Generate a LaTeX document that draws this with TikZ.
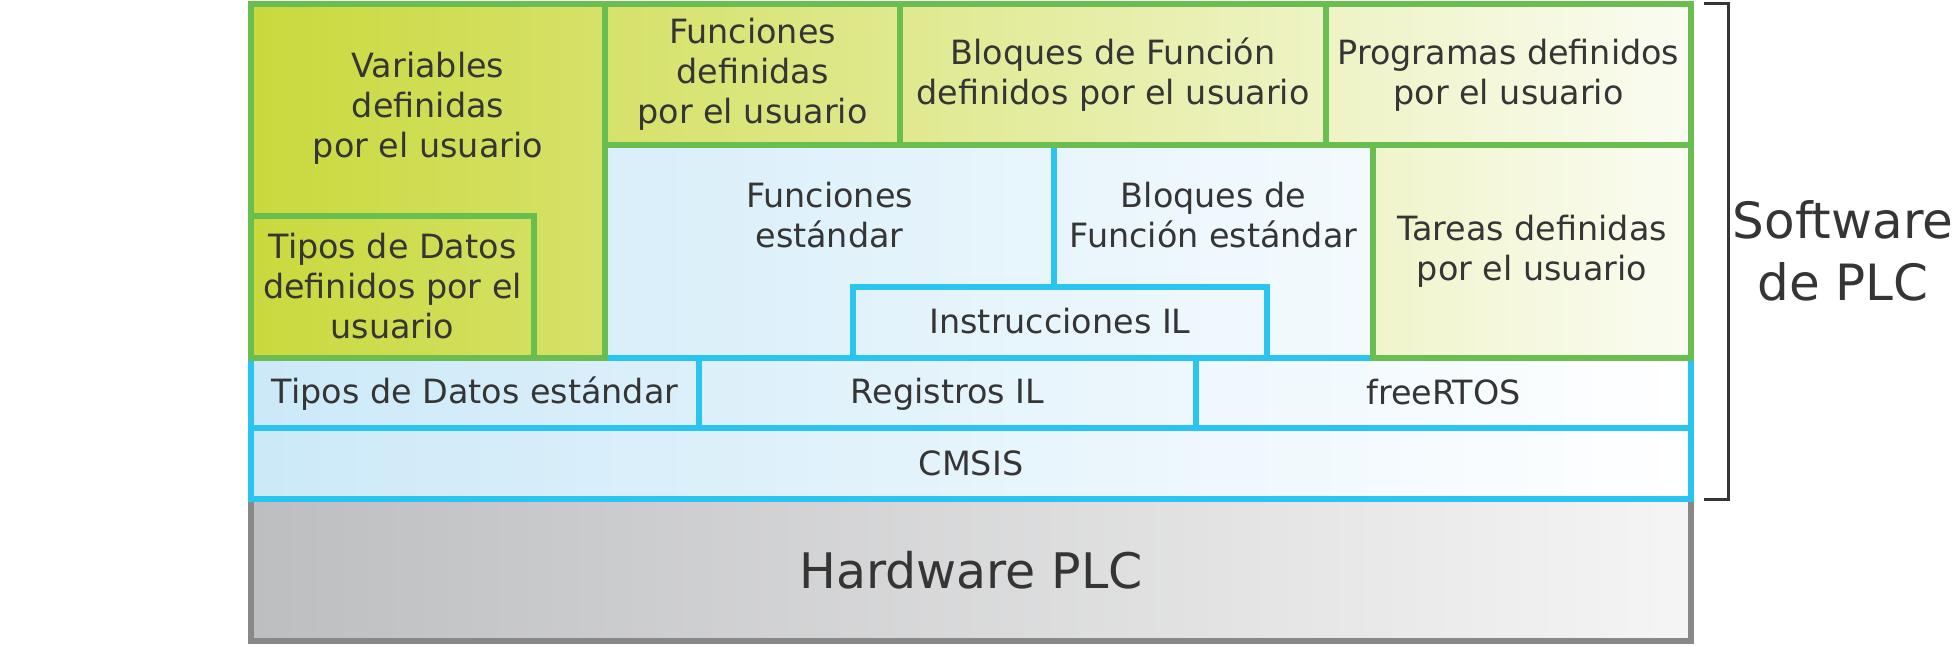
\documentclass[tikz,border=0pt]{standalone}
\usepackage{fontspec}
\setmainfont{DejaVu Sans}
\definecolor{grn}{HTML}{6ABD4F}
\definecolor{blu}{HTML}{29C5F0}
\definecolor{gry}{HTML}{888888}
\definecolor{txt}{HTML}{353535}
\definecolor{gL}{HTML}{C9D93C}
\definecolor{gR}{HTML}{FBFCF3}
\definecolor{bL}{HTML}{CCE9F8}
\definecolor{bR}{HTML}{FFFFFF}
\definecolor{hL}{HTML}{BDBEC0}
\definecolor{hR}{HTML}{F5F5F5}
% #1 left colour, #2 right colour, #3 border colour, #4 corner, #5 corner
\newcommand\plcbox[5]{%
  \begin{scope}
    \clip #4 rectangle #5;
    \shade[left color=#1,right color=#2] (251,0) rectangle (1692,645);
  \end{scope}
  \draw[boxline,#3] #4 rectangle #5;
}
\begin{document}
\begin{tikzpicture}[x=1pt,y=-1pt,
  boxline/.style={line width=5.5pt},
  lbl/.style={text=txt,align=center,inner sep=0pt,font=\fontsize{33.4}{40}\selectfont},
  bigl/.style={text=txt,align=center,inner sep=0pt,font=\fontsize{49}{59}\selectfont},
  sidel/.style={text=txt,align=center,inner sep=0pt,font=\fontsize{50}{62}\selectfont}]
\useasboundingbox (0,0) rectangle (1956,645);
% hardware
\plcbox{hL}{hR}{gry}{(251,499)}{(1691,641)}
% blue layers
\plcbox{bL}{bR}{blu}{(251,428)}{(1691,499)}
\plcbox{bL}{bR}{blu}{(251,358)}{(699,428)}
\plcbox{bL}{bR}{blu}{(699,358)}{(1196,428)}
\plcbox{bL}{bR}{blu}{(1196,358)}{(1691,428)}
\plcbox{bL}{bR}{blu}{(605,145)}{(1054,358)}
\plcbox{bL}{bR}{blu}{(1054,145)}{(1373,358)}
\plcbox{bL}{bR}{blu}{(853,287)}{(1267,358)}
% green layers
\plcbox{gL}{gR}{grn}{(251,4)}{(605,358)}
\plcbox{gL}{gR}{grn}{(251,216)}{(534,358)}
\plcbox{gL}{gR}{grn}{(605,4)}{(900,145)}
\plcbox{gL}{gR}{grn}{(900,4)}{(1326,145)}
\plcbox{gL}{gR}{grn}{(1326,4)}{(1691,145)}
\plcbox{gL}{gR}{grn}{(1373,145)}{(1691,358)}
% texts
\node[lbl] (var) at (428,108) {Variables\\definidas\\por el usuario};
\node[lbl] (tdd) at (392.5,286) {Tipos de Datos\\definidos por el\\usuario};
\node[lbl] (fd) at (752.5,74) {Funciones\\definidas\\por el usuario};
\node[lbl] (bd) at (1113,75) {Bloques de Función\\definidos por el usuario};
\node[lbl] (pd) at (1508.5,75) {Programas definidos\\por el usuario};
\node[lbl] (fe) at (829.5,215) {Funciones\\estándar};
\node[lbl] (be) at (1213.5,215) {Bloques de\\Función estándar};
\node[lbl] (il) at (1060,321) {Instrucciones IL};
\node[lbl] (tar) at (1532,251) {Tareas definidas\\por el usuario};
\node[lbl] (tde) at (475,394) {Tipos de Datos estándar};
\node[lbl] (reg) at (947.5,394) {Registros IL};
\node[lbl] (rtos) at (1443.5,392) {freeRTOS};
\node[lbl] (cmsis) at (971,463) {CMSIS};
\node[bigl] (hw) at (971,570) {Hardware PLC};
% bracket and side label
\coordinate (bt) at (1704,3.5);
\coordinate (bb) at (1704,499);
\draw[txt,line width=3pt] (bt) -- ++(24,0) |- (bb);
\node[sidel] (sw) at (1843,251) {Software\\de PLC};
\end{tikzpicture}
\end{document}
